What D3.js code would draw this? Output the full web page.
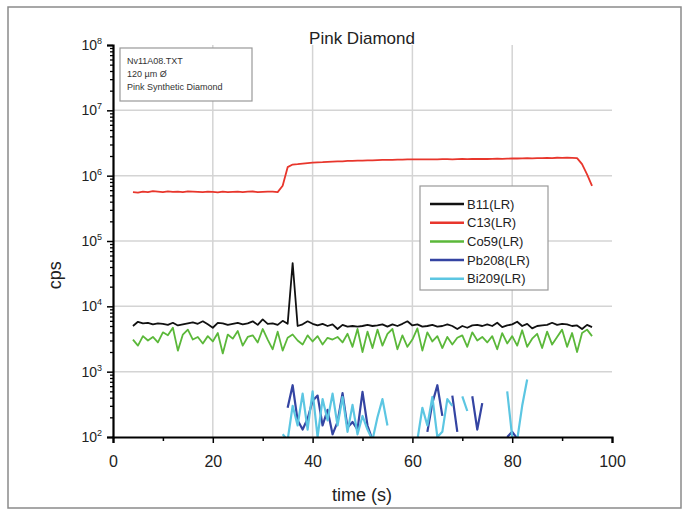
<!DOCTYPE html>
<html>
<head>
<meta charset="utf-8">
<script src="https://cdn.jsdelivr.net/npm/d3@7"></script>
<style>
  body { margin: 0; background: #fff; }
  svg { font-family: "Liberation Sans", Arial, sans-serif; }
</style>
</head>
<body>
<svg id="chart" width="688" height="515"></svg>
<script>
// time stamps (s)
var time = [4,5,6,7,8,9,10,11,12,13,14,15,16,17,18,19,20,21,22,23,24,25,26,27,28,29,30,31,32,33,34,35,36,37,38,39,40,41,42,43,44,45,46,47,48,49,50,51,52,53,54,55,56,57,58,59,60,61,62,63,64,65,66,67,68,69,70,71,72,73,74,75,76,77,78,79,80,81,82,83,84,85,86,87,88,89,90,91,92,93,94,95,96];

var b11 = [5000,5800,5500,5600,5300,5500,5400,5200,5600,5100,5300,5500,5700,5400,5900,5300,4700,5600,5500,5200,5400,5600,5300,5500,5900,5200,6300,5400,5500,5200,6000,5400,46000,5000,5300,5900,5400,5100,5400,5000,5300,4500,5200,4900,5000,4900,5000,5200,5000,5100,5300,4900,5300,5000,5400,5900,5100,5300,4900,5000,5200,4900,5000,5300,5000,4500,5000,4700,5100,5200,5000,5300,5000,5600,4800,5100,5300,5800,5000,5400,4600,5000,5100,5200,5600,5200,5400,5300,5000,5100,4500,5200,4800];

var c13 = [560000,550000,570000,560000,580000,570000,560000,575000,565000,570000,560000,575000,570000,565000,560000,570000,565000,555000,570000,560000,565000,570000,560000,568000,572000,560000,565000,570000,568000,560000,700000,1350000,1480000,1500000,1530000,1560000,1580000,1600000,1610000,1630000,1640000,1650000,1660000,1680000,1690000,1700000,1700000,1710000,1720000,1730000,1740000,1750000,1750000,1760000,1760000,1770000,1770000,1780000,1780000,1780000,1770000,1780000,1790000,1790000,1780000,1790000,1800000,1790000,1800000,1810000,1800000,1800000,1810000,1820000,1810000,1820000,1830000,1830000,1840000,1850000,1840000,1860000,1850000,1870000,1860000,1880000,1870000,1880000,1870000,1860000,1500000,1050000,700000];

var co59 = [3100,2500,3500,3000,3400,2800,4000,3600,4700,2100,3700,4400,3100,3400,2700,3500,2900,3900,1900,3700,3200,4200,2500,3400,3600,2800,4500,3100,2200,4100,2100,3300,3700,3000,2600,3600,2900,3500,2600,3300,3100,3400,2800,3800,2400,4500,2000,4100,2300,4400,2500,3800,4500,2200,3600,2400,3100,4600,2100,4000,2900,3500,2300,3400,2600,3300,3600,2400,4000,3000,3400,2800,3500,2200,3900,2700,3500,2500,4300,2400,3200,3800,2300,4100,2600,3400,4400,2400,3900,2000,3900,4400,3500];

var pb208 = [null,null,null,null,null,null,null,null,null,null,null,null,null,null,null,null,null,null,null,null,null,null,null,null,null,null,null,null,null,null,null,280,620,180,130,190,360,430,150,260,110,170,470,140,170,130,490,150,90,null,null,null,null,null,null,null,null,null,null,120,330,620,210,null,430,120,null,null,420,130,330,null,null,null,null,100,120,95,null,null,null,null,null,null,null,null,null,null,null,null,null,null,null];

var bi209 = [null,null,null,null,null,null,null,null,null,null,null,null,null,null,null,null,null,null,null,null,null,null,null,null,null,null,null,null,null,null,110,90,300,150,460,130,500,100,380,180,460,150,410,120,310,110,210,130,90,200,380,150,null,null,null,null,null,90,280,150,410,100,120,380,300,null,420,250,null,null,null,null,null,null,null,500,100,90,300,760,null,null,null,null,null,null,null,null,null,null,null,null,null];

var seriesNames = ["B11(LR)", "C13(LR)", "Co59(LR)", "Pb208(LR)", "Bi209(LR)"];
var seriesColors = ["#111111", "#e8362c", "#5bb83a", "#3444a2", "#5cc6e2"];
var seriesValues = [b11, c13, co59, pb208, bi209];

var infoLines = ["Nv11A08.TXT", "120 \u00b5m \u00d8", "Pink Synthetic Diamond"];
var xTicks = [0, 20, 40, 60, 80, 100];
var yExps = [2, 3, 4, 5, 6, 7, 8];

var svg = d3.select("#chart");
var margin = {top: 45, right: 76, bottom: 78, left: 113},
    width = +svg.attr("width") - margin.left - margin.right,
    height = +svg.attr("height") - margin.top - margin.bottom;

// outer frame
svg.append("rect")
    .attr("x", 8).attr("y", 7)
    .attr("width", 673).attr("height", 501)
    .style("fill", "none").style("stroke", "#8a8a8a").style("stroke-width", 1.5);

var g = svg.append("g")
    .attr("transform", "translate(" + margin.left + "," + margin.top + ")");

var x = d3.scaleLinear().domain([0, 100]).range([0, width]);
var y = d3.scaleLog().domain([1e2, 1e8]).range([height, 0]);

// grid
g.selectAll(".hgrid")
    .data(yExps.slice(1, -1))
    .enter().append("line")
    .attr("x1", 0).attr("x2", width)
    .attr("y1", function(d) { return y(Math.pow(10, d)); })
    .attr("y2", function(d) { return y(Math.pow(10, d)); })
    .style("stroke", "#d4d4d4").style("stroke-width", 1.5);

g.selectAll(".vgrid")
    .data(xTicks.slice(1, -1))
    .enter().append("line")
    .attr("x1", function(d) { return x(d); })
    .attr("x2", function(d) { return x(d); })
    .attr("y1", 0).attr("y2", height)
    .style("stroke", "#d4d4d4").style("stroke-width", 1.5);

// clip
svg.append("clipPath").attr("id", "clip")
    .append("rect").attr("width", width).attr("height", height);

var line = d3.line()
    .defined(function(d) { return d[1] !== null; })
    .x(function(d) { return x(d[0]); })
    .y(function(d) { return y(d[1]); });

var plot = g.append("g").attr("clip-path", "url(#clip)");
seriesValues.forEach(function(vals, i) {
    var pts = time.map(function(t, j) { return [t, vals[j]]; });
    plot.append("path")
        .datum(pts)
        .attr("d", line)
        .style("fill", "none")
        .style("stroke", seriesColors[i])
        .style("stroke-width", i >= 3 ? 2.2 : 1.8)
        .style("stroke-linejoin", "round");
});

// axes
var minorY = [];
yExps.slice(0, -1).forEach(function(e) {
    for (var k = 2; k < 10; k++) minorY.push(k * Math.pow(10, e));
});
g.append("g")
    .call(d3.axisLeft(y).tickValues(minorY).tickSize(3).tickFormat(""))
    .call(function(a) { a.select(".domain").remove(); a.selectAll("line").style("stroke-width", 1.3); });

var yAxis = g.append("g")
    .call(d3.axisLeft(y).tickValues(yExps.map(function(e) { return Math.pow(10, e); }))
        .tickSize(6).tickFormat(""));
yAxis.select(".domain").style("stroke-width", 2.2);
yAxis.selectAll("line").style("stroke-width", 1.5);

var yLab = g.selectAll(".ylab")
    .data(yExps)
    .enter().append("text")
    .attr("x", -11)
    .attr("y", function(d) { return y(Math.pow(10, d)) + 5; })
    .style("text-anchor", "end")
    .style("font-size", "14px")
    .style("fill", "#222");
yLab.append("tspan").text("10");
yLab.append("tspan").attr("dy", -6).style("font-size", "9px").text(function(d) { return d; });

var xMinor = [10, 30, 50, 70, 90];
g.append("g")
    .attr("transform", "translate(0," + height + ")")
    .call(d3.axisBottom(x).tickValues(xMinor).tickSize(4).tickFormat(""))
    .call(function(a) { a.select(".domain").remove(); a.selectAll("line").style("stroke-width", 1.5); });

var xAxis = g.append("g")
    .attr("transform", "translate(0," + height + ")")
    .call(d3.axisBottom(x).tickValues(xTicks).tickSize(6).tickPadding(13));
xAxis.select(".domain").style("stroke-width", 2.2);
xAxis.selectAll("line").style("stroke-width", 1.5);
xAxis.selectAll("text")
    .style("font-size", "16px")
    .style("font-family", "Liberation Sans, Arial, sans-serif")
    .style("fill", "#222");

// labels
svg.append("text")
    .attr("x", 362).attr("y", 44)
    .style("text-anchor", "middle")
    .style("font-size", "17px")
    .style("fill", "#222")
    .text("Pink Diamond");

svg.append("text")
    .attr("x", 362).attr("y", 501)
    .style("text-anchor", "middle")
    .style("font-size", "18px")
    .style("fill", "#222")
    .text("time (s)");

svg.append("text")
    .attr("transform", "translate(61," + (margin.top + y(3e4)) + ") rotate(-90)")
    .style("text-anchor", "middle")
    .style("font-size", "18px")
    .style("fill", "#222")
    .text("cps");

// info box
svg.append("rect")
    .attr("x", 120).attr("y", 48)
    .attr("width", 132).attr("height", 53)
    .style("fill", "#fff").style("stroke", "#999").style("stroke-width", 1.2);
svg.selectAll(".info")
    .data(infoLines)
    .enter().append("text")
    .attr("x", 127)
    .attr("y", function(d, i) { return 64 + i * 13; })
    .style("font-size", "9px")
    .style("fill", "#333")
    .text(function(d) { return d; });

// legend
svg.append("rect")
    .attr("x", 420).attr("y", 186)
    .attr("width", 128).attr("height", 104)
    .style("fill", "#fff").style("stroke", "#999").style("stroke-width", 1.2);

var legend = svg.selectAll(".legend")
    .data(seriesNames)
    .enter().append("g")
    .attr("transform", function(d, i) { return "translate(0," + (204 + i * 18.7) + ")"; });

legend.append("line")
    .attr("x1", 430).attr("x2", 464)
    .style("stroke", function(d, i) { return seriesColors[i]; })
    .style("stroke-width", 2.5);

legend.append("text")
    .attr("x", 467)
    .attr("dy", ".35em")
    .style("font-size", "13px")
    .style("fill", "#222")
    .text(function(d) { return d; });
</script>
</body>
</html>
